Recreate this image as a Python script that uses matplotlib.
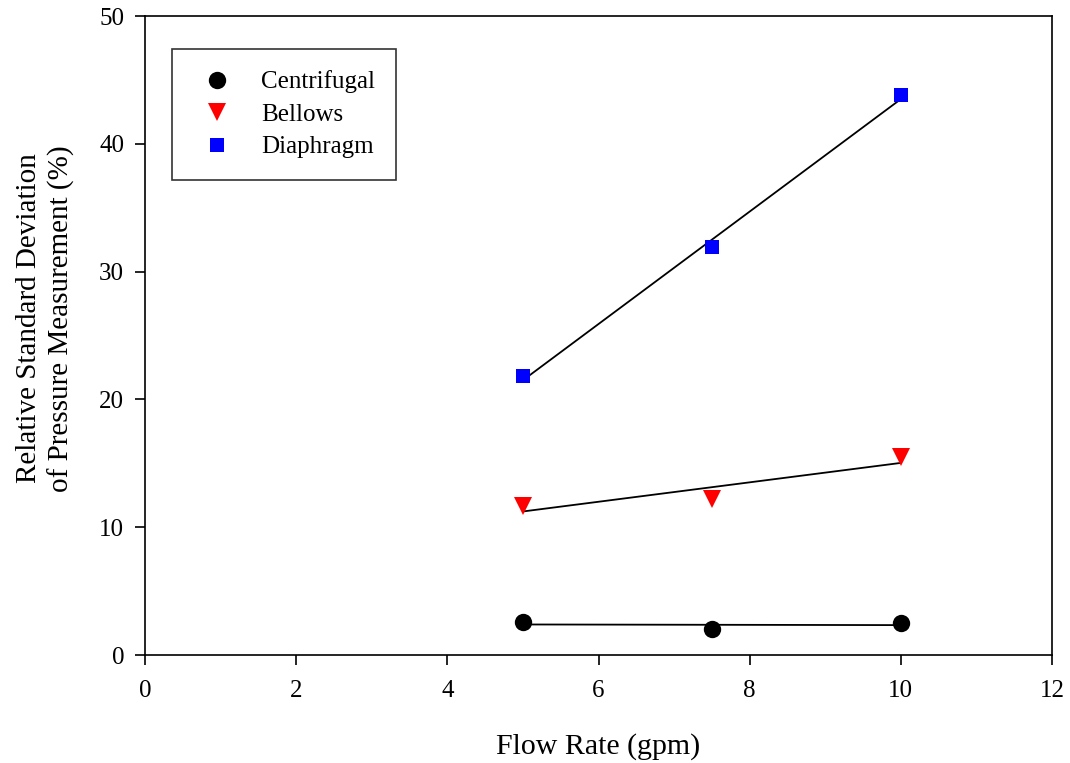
import numpy as np
import matplotlib
matplotlib.use("Agg")
import matplotlib.pyplot as plt

plt.rcParams['font.family'] = ['Liberation Serif', 'DejaVu Serif']

flow = [5.0, 7.5, 10.0]
centrifugal = [2.55, 2.05, 2.5]
bellows = [11.7, 12.2, 15.5]
diaphragm = [21.8, 31.9, 43.8]

series = [
    ("Centrifugal", centrifugal, 'o', 'black', 12.5),
    ("Bellows", bellows, 'v', 'red', 12.5),
    ("Diaphragm", diaphragm, 's', 'blue', 10.5),
]

fig = plt.figure(figsize=(10.7, 7.63), dpi=100)
ax = fig.add_axes([0.1355, 0.1415, 0.8477, 0.8375])

x = np.array(flow)
for name, y, m, c, ms in series:
    # least-squares line through each pump's points
    k, b = np.polyfit(x, y, 1)
    ax.plot([x.min(), x.max()], [k * x.min() + b, k * x.max() + b],
            color='black', lw=1.3, zorder=2)
    ax.plot(x, y, linestyle='none', marker=m, color=c, ms=ms,
            markeredgewidth=0, label=name, zorder=3)

ax.set_xlim(0, 12)
ax.set_ylim(0, 50)
ax.set_xticks(range(0, 13, 2))
ax.set_yticks(range(0, 51, 10))
ax.tick_params(direction='out', length=7, width=1.2, labelsize=18)
ax.tick_params(axis='x', pad=11)
ax.tick_params(axis='y', pad=8)
for s in ax.spines.values():
    s.set_linewidth(1.2)

ax.set_xlabel("Flow Rate (gpm)", fontsize=21.5, labelpad=22)
ax.set_ylabel("Relative Standard Deviation\nof Pressure Measurement (%)",
              fontsize=21, linespacing=1.3)
ax.yaxis.set_label_coords(-0.077, 0.527)

leg = ax.legend(loc='upper left', bbox_to_anchor=(0.03, 0.948), fontsize=18,
                frameon=True, fancybox=False, edgecolor='black',
                borderpad=0.85, labelspacing=0.4, handletextpad=0.82,
                handlelength=1.88, borderaxespad=0)
leg.get_frame().set_linewidth(1.2)

fig.savefig("out.png", dpi=100)
